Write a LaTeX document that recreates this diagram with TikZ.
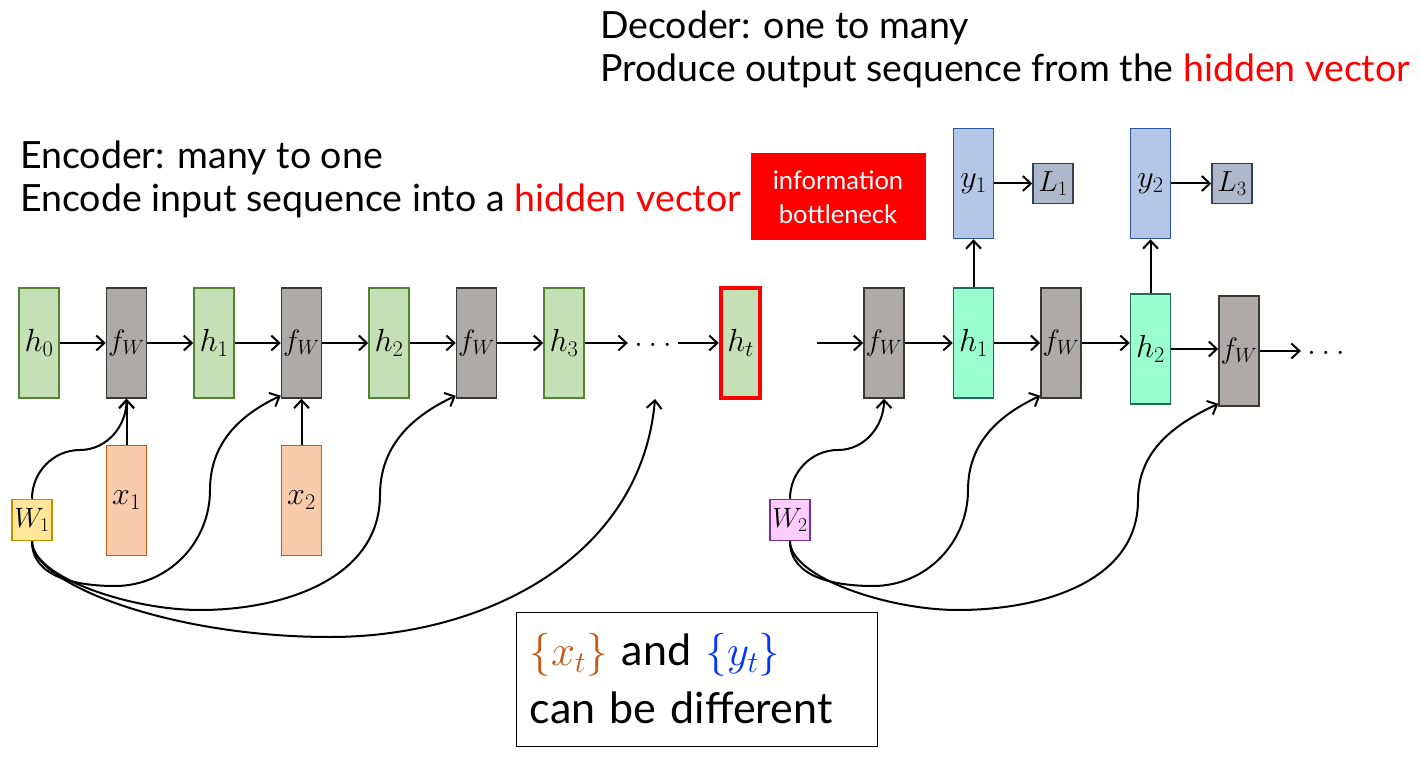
\RequirePackage{fix-cm}
\documentclass[tikz,border=0pt]{standalone}
\usepackage{fontspec}
\setsansfont{Lato}
\usetikzlibrary{positioning}
\usetikzlibrary{arrows.meta}

\definecolor{hidfill}{HTML}{C5E0B4}
\definecolor{hidline}{HTML}{548235}
\definecolor{funfill}{HTML}{AEAAAA}
\definecolor{funline}{HTML}{3B3838}
\definecolor{inpfill}{HTML}{F8CBAD}
\definecolor{inpline}{HTML}{C55A11}
\definecolor{wonefill}{HTML}{FFE699}
\definecolor{woneline}{HTML}{BF9000}
\definecolor{wtwofill}{HTML}{FFCCFF}
\definecolor{wtwoline}{HTML}{7030A0}
\definecolor{decfill}{HTML}{99FFCC}
\definecolor{decline}{HTML}{1F6B5F}
\definecolor{outfill}{HTML}{B4C7E7}
\definecolor{outdraw}{HTML}{2F5597}
\definecolor{lossfill}{HTML}{ADB9CA}
\definecolor{lossline}{HTML}{333F50}
\definecolor{xorange}{HTML}{C55A11}
\definecolor{yblue}{HTML}{0432FF}

\tikzset{
  cell/.style={rectangle,draw,line width=1.5pt,minimum width=40pt,minimum height=110pt,inner sep=0pt,font=\fontsize{32}{34}\selectfont},
  hid/.style={cell,fill=hidfill,draw=hidline},
  fun/.style={cell,fill=funfill,draw=funline,font=\fontsize{29.5}{32}\selectfont},
  inp/.style={cell,fill=inpfill,draw=inpline},
  dec/.style={cell,fill=decfill,draw=decline},
  outp/.style={cell,fill=outfill,draw=outdraw},
  loss/.style={rectangle,draw=lossline,fill=lossfill,line width=1.5pt,minimum size=40pt,inner sep=0pt,font=\fontsize{29}{31}\selectfont},
  wbox/.style={rectangle,draw,line width=1.5pt,minimum width=40pt,minimum height=41pt,inner sep=0pt,font=\fontsize{28}{30}\selectfont},
  arr/.style={-{Straight Barb[length=8pt,width=15pt]},line width=2pt},
  title/.style={anchor=base west,inner sep=0pt,font=\sffamily\fontsize{37.5}{42}\selectfont},
}

\begin{document}
\begin{tikzpicture}[x=1pt,y=1pt]
\useasboundingbox (0,0) rectangle (1420,758);
  \node(dectitle)[title] at (600,719){Decoder: one to many};
  \node(decsub)[title] at (600,676){Produce output sequence from the \textcolor{red}{hidden vector}};
  \node(enctitle)[title] at (20,589){Encoder: many to one};
  \node(encsub)[title] at (20,546){Encode input sequence into a \textcolor{red}{hidden vector}};
  \node(neck)[fill=red,minimum width=175pt,minimum height=87pt,align=center,text=white,font=\sffamily\fontsize{25.5}{34}\selectfont] at (838,561){information\\bottleneck};
  \node(h0)[hid] at (39,415){$h_0$};
  \node(fw1)[fun,right=46pt of h0]{$f_W$};
  \node(h1)[hid,right=46pt of fw1]{$h_1$};
  \node(fw2)[fun,right=46pt of h1]{$f_W$};
  \node(h2)[hid,right=46pt of fw2]{$h_2$};
  \node(fw3)[fun,right=46pt of h2]{$f_W$};
  \node(h3)[hid,right=46pt of fw3]{$h_3$};
  \node(dots)[inner sep=6pt,font=\fontsize{33}{35}\selectfont] at (653,413){$\dots$};
  \node(ht)[hid,draw=red,line width=4.5pt,minimum width=39pt,right=134pt of h3]{$h_t$};
  \node(x1)[inp,below=46pt of fw1]{$x_1$};
  \node(x2)[inp,below=46pt of fw2]{$x_2$};
  \node(W1)[wbox,fill=wonefill,draw=woneline] at (32,238){$W_1$};
  \coordinate(tin) at (655,359);
  \coordinate(din) at (817,415);
  \node(dfw1)[fun,right=101pt of ht]{$f_W$};
  \node(dh1)[dec,right=48pt of dfw1]{$h_1$};
  \node(dfw2)[fun,right=46pt of dh1]{$f_W$};
  \node(dh2)[dec,right=48pt of dfw2,yshift=-6pt]{$h_2$};
  \node(dfw3)[fun,right=47pt of dh2,yshift=-2pt]{$f_W$};
  \node(odots)[inner sep=6pt,font=\fontsize{33}{35}\selectfont] at (1326,405){$\dots$};
  \node(y1)[outp,above=48pt of dh1]{$y_1$};
  \node(y2)[outp,above=54pt of dh2]{$y_2$};
  \node(L1)[loss,right=38pt of y1]{$L_1$};
  \node(L3)[loss,right=40pt of y2]{$L_3$};
  \node(W2)[wbox,fill=wtwofill,draw=wtwoline] at (790,238){$W_2$};
  \node(note)[draw,line width=1pt,minimum width=361pt,minimum height=134pt,text width=335pt,inner sep=13pt,align=left,font=\sffamily\fontsize{43}{58}\selectfont] at (697,79){\textcolor{xorange}{$\{x_t\}$} and \textcolor{yblue}{$\{y_t\}$}\\can be different};
\draw[arr](h0)--(fw1);
\draw[arr](fw1)--(h1);
\draw[arr](h1)--(fw2);
\draw[arr](fw2)--(h2);
\draw[arr](h2)--(fw3);
\draw[arr](fw3)--(h3);
\draw[arr](h3.east)--(dots.west |- h3.east);
\draw[arr](dots.east |- ht.west)--(ht.west);
\draw[arr](x1)--(fw1);
\draw[arr](x2)--(fw2);
\draw[arr](W1.north) to[out=90,in=180] (80,308) to[out=0,in=-90] (fw1.south);
\draw[arr](W1.south) to[out=-90,in=180] (115,172) to[out=0,in=-90] (210,268) to[out=90,in=205] ([yshift=3pt]fw2.south west);
\draw[arr](W1.south) to[out=-90,in=180,out looseness=0.5] (200,148) to[out=0,in=-90] (380,263) to[out=90,in=205] ([yshift=3pt]fw3.south west);
\draw[arr](W1.south) to[out=-90,in=180,out looseness=0.35,in looseness=1.3] (330,121) to[out=0,in=-95] (tin);
\draw[arr](din)--(dfw1);
\draw[arr](dfw1)--(dh1);
\draw[arr](dh1)--(dfw2);
\draw[arr](dfw2.east)--(dh2.west |- dfw2.east);
\draw[arr](dh2.east)--(dfw3.west |- dh2.east);
\draw[arr](dfw3.east)--(odots.west |- dfw3.east);
\draw[arr](dh1)--(y1);
\draw[arr](dh2)--(y2);
\draw[arr](y1)--(L1);
\draw[arr](y2)--(L3);
\draw[arr](W2.north) to[out=90,in=180] (838,308) to[out=0,in=-90] (dfw1.south);
\draw[arr](W2.south) to[out=-90,in=180] (873,172) to[out=0,in=-90] (968,268) to[out=90,in=205] ([yshift=3pt]dfw2.south west);
\draw[arr](W2.south) to[out=-90,in=180,out looseness=0.5] (958,148) to[out=0,in=-90] (1138,258) to[out=90,in=205] ([yshift=3pt]dfw3.south west);
\end{tikzpicture}
\end{document}
